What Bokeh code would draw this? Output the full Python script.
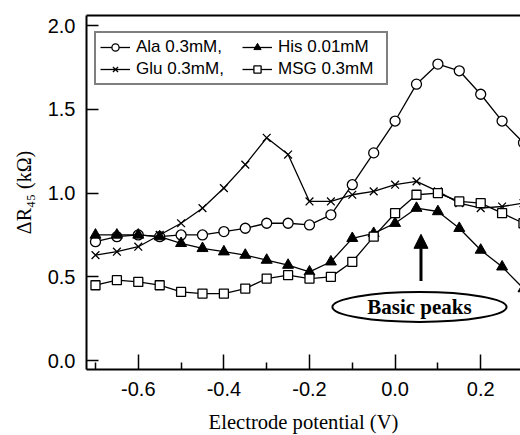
from bokeh.plotting import figure
from bokeh.models import (Range1d, LinearAxis, FixedTicker, Legend, LegendItem,
                          Arrow, NormalHead, Label)
from bokeh.embed import file_html
from bokeh.resources import INLINE

# ---- data ----
potential = [-0.70, -0.65, -0.60, -0.55, -0.50, -0.45, -0.40, -0.35, -0.30, -0.25, -0.20,
             -0.15, -0.10, -0.05, 0.00, 0.05, 0.10, 0.15, 0.20, 0.25, 0.30]
ala = [0.71, 0.74, 0.75, 0.74, 0.75, 0.75, 0.77, 0.79, 0.82, 0.82, 0.81,
       0.87, 1.05, 1.24, 1.43, 1.65, 1.77, 1.73, 1.59, 1.43, 1.30]
glu = [0.63, 0.65, 0.68, 0.75, 0.82, 0.91, 1.03, 1.17, 1.33, 1.23, 0.95,
       0.95, 0.99, 1.01, 1.05, 1.07, 1.01, 0.94, 0.91, 0.92, 0.94]
his = [0.75, 0.75, 0.75, 0.74, 0.70, 0.67, 0.65, 0.63, 0.60, 0.57, 0.53,
       0.59, 0.73, 0.76, 0.82, 0.91, 0.89, 0.79, 0.66, 0.56, 0.43]
msg = [0.45, 0.48, 0.47, 0.45, 0.41, 0.40, 0.40, 0.43, 0.49, 0.51, 0.49,
       0.50, 0.59, 0.74, 0.88, 0.99, 1.00, 0.95, 0.94, 0.88, 0.82]
series_labels = ["Ala 0.3mM,", "His 0.01mM", "Glu 0.3mM,", "MSG 0.3mM"]

x_ticks = [-0.6, -0.4, -0.2, 0.0, 0.2]
x_tick_labels = ["-0.6", "-0.4", "-0.2", "0.0", "0.2"]
x_minor_ticks = [-0.7, -0.5, -0.3, -0.1, 0.1, 0.3]
y_ticks = [0.0, 0.5, 1.0, 1.5, 2.0]
y_tick_labels = ["0.0", "0.5", "1.0", "1.5", "2.0"]

annotation_text = "Basic peaks"

SANS = "Liberation Sans"
SERIF = "Liberation Serif"

p = figure(width=520, height=435, output_backend="svg", toolbar_location=None,
           x_range=Range1d(-0.721, 0.293), y_range=Range1d(-0.053, 2.06),
           min_border_left=86, min_border_right=0, min_border_top=15, min_border_bottom=64)
p.xgrid.visible = False
p.ygrid.visible = False
p.outline_line_color = None
p.background_fill_color = "white"

# x axis
xa = p.xaxis[0]
xa.ticker = FixedTicker(ticks=x_ticks, minor_ticks=x_minor_ticks)
xa.major_label_overrides = dict(zip(x_ticks, x_tick_labels))
xa.major_tick_in = 15
xa.major_tick_out = 0
xa.minor_tick_in = 7
xa.minor_tick_out = 0
xa.axis_line_width = 2
xa.axis_line_color = "black"
xa.major_tick_line_color = "black"
xa.minor_tick_line_color = "black"
xa.major_tick_line_width = 1.5
xa.minor_tick_line_width = 1.5
xa.major_label_text_font = SANS
xa.major_label_text_font_size = "20px"
xa.major_label_text_color = "black"
xa.major_label_standoff = 12
xa.axis_label = "Electrode potential (V)"
xa.axis_label_text_font = SERIF
xa.axis_label_text_font_style = "normal"
xa.axis_label_text_font_size = "20.6px"
xa.axis_label_text_color = "black"
xa.axis_label_standoff = 12

# y axis
ya = p.yaxis[0]
ya.ticker = FixedTicker(ticks=y_ticks, minor_ticks=[])
ya.major_label_overrides = dict(zip(y_ticks, y_tick_labels))
ya.major_tick_in = 12
ya.major_tick_out = 0
ya.minor_tick_line_color = None
ya.axis_line_width = 2
ya.axis_line_color = "black"
ya.major_tick_line_color = "black"
ya.major_tick_line_width = 1.5
ya.major_label_text_font = SANS
ya.major_label_text_font_size = "20px"
ya.major_label_text_color = "black"
ya.major_label_standoff = 11
ya.axis_label = "ΔR₄₅ (kΩ)"
ya.axis_label_text_font = SERIF
ya.axis_label_text_font_style = "normal"
ya.axis_label_text_font_size = "20px"
ya.axis_label_text_color = "black"
ya.axis_label_standoff = 10

# top frame line
top = LinearAxis(ticker=FixedTicker(ticks=[]), axis_line_width=2, axis_line_color="black",
                 major_tick_line_color=None, minor_tick_line_color=None,
                 major_label_text_font_size="0px")
p.add_layout(top, "above")

# series
lw = 1.3
l_ala = p.line(potential, ala, line_color="black", line_width=lw)
s_ala = p.scatter(potential, ala, marker="circle", size=10, fill_color="white",
                  line_color="black", line_width=1.3)
l_glu = p.line(potential, glu, line_color="black", line_width=lw)
s_glu = p.scatter(potential, glu, marker="x", size=11, line_color="black", line_width=1.3)
l_his = p.line(potential, his, line_color="black", line_width=lw)
s_his = p.scatter(potential, his, marker="triangle", size=11, fill_color="black",
                  line_color="black", line_width=1)
l_msg = p.line(potential, msg, line_color="black", line_width=lw)
s_msg = p.scatter(potential, msg, marker="square", size=9, fill_color="white",
                  line_color="black", line_width=1.3)

# legend is filled column by column: Ala, Glu | His, MSG
legend = Legend(items=[
    LegendItem(label=series_labels[0], renderers=[l_ala, s_ala]),
    LegendItem(label=series_labels[2], renderers=[l_glu, s_glu]),
    LegendItem(label=series_labels[1], renderers=[l_his, s_his]),
    LegendItem(label=series_labels[3], renderers=[l_msg, s_msg]),
], ncols=2, location=(8, 284))
legend.label_text_font = SANS
legend.label_text_font_size = "17px"
legend.label_text_color = "black"
legend.glyph_width = 30
legend.glyph_height = 18
legend.label_height = 18
legend.label_width = 104
legend.label_standoff = 6
legend.spacing = 2
legend.padding = 4
legend.margin = 0
legend.border_line_color = "black"
legend.border_line_width = 2
legend.background_fill_alpha = 1
p.add_layout(legend)

# annotation: ellipse, text and arrow
ann_x, ann_y = 0.057, 0.32
p.ellipse(x=[ann_x], y=[ann_y], width=[0.407], height=[0.178], fill_color="white",
          line_color="black", line_width=2)
p.add_layout(Label(x=ann_x, y=ann_y, text=annotation_text, text_align="center",
                   text_baseline="middle", text_font=SERIF, text_font_style="bold",
                   text_font_size="21px", text_color="black"))
p.add_layout(Arrow(end=NormalHead(size=14, fill_color="black", line_color="black"),
                   x_start=0.0605, y_start=0.475, x_end=0.0605, y_end=0.754,
                   line_width=3, line_color="black"))

open("out.html", "w").write(file_html(p, INLINE))
